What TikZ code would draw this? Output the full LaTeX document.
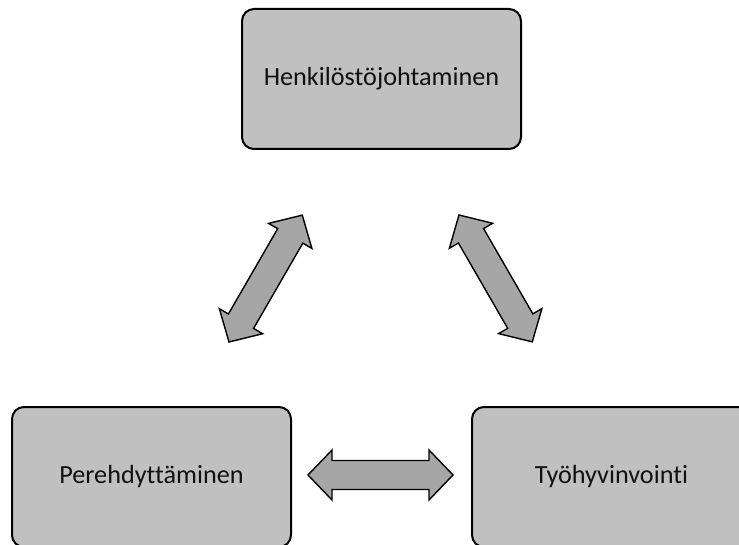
\documentclass[tikz,border=0pt]{standalone}
\usepackage{fontspec}
\setmainfont[Ligatures={NoCommon}]{Carlito}
\definecolor{boxfill}{HTML}{C0C0C0}
\definecolor{arrfill}{HTML}{A6A6A6}
\definecolor{txt}{HTML}{111111}
\tikzset{
  x=1pt, y=1pt,
  blockbox/.style={draw=black, line width=2pt, fill=boxfill, rounded corners=12pt,
    minimum width=279pt, minimum height=140pt, inner sep=0pt,
    font=\fontsize{26.2}{30}\selectfont, text=txt},
  blockarrow/.style={draw=black, line width=1.4pt, fill=arrfill, line join=miter},
  dblarrow/.pic={
    \path[blockarrow] (0,0) -- (24,25) -- (24,14.5) -- (#1-24,14.5) -- (#1-24,25)
      -- (#1,0) -- (#1-24,-25) -- (#1-24,-14.5) -- (24,-14.5) -- (24,-25) -- cycle;
  }
}
\begin{document}
\begin{tikzpicture}
\useasboundingbox (0,0) rectangle (739,544);
\clip (0,0) rectangle (739,544);
\node[blockbox] (hj) at (381.5,465) {Henkilöstöjohtaminen};
\node[blockbox] (pe) at (151.5,67) {Perehdyttäminen};
\node[blockbox] (th) at (611.5,67) {Työhyvinvointi};
\coordinate (a1) at (229,202);
\coordinate (a2) at (459,329);
\coordinate (a3) at (308,69);
\pic[rotate=60] at (a1) {dblarrow=146.5};
\pic[rotate=-60] at (a2) {dblarrow=146.5};
\pic at (a3) {dblarrow=145};
\end{tikzpicture}
\end{document}
